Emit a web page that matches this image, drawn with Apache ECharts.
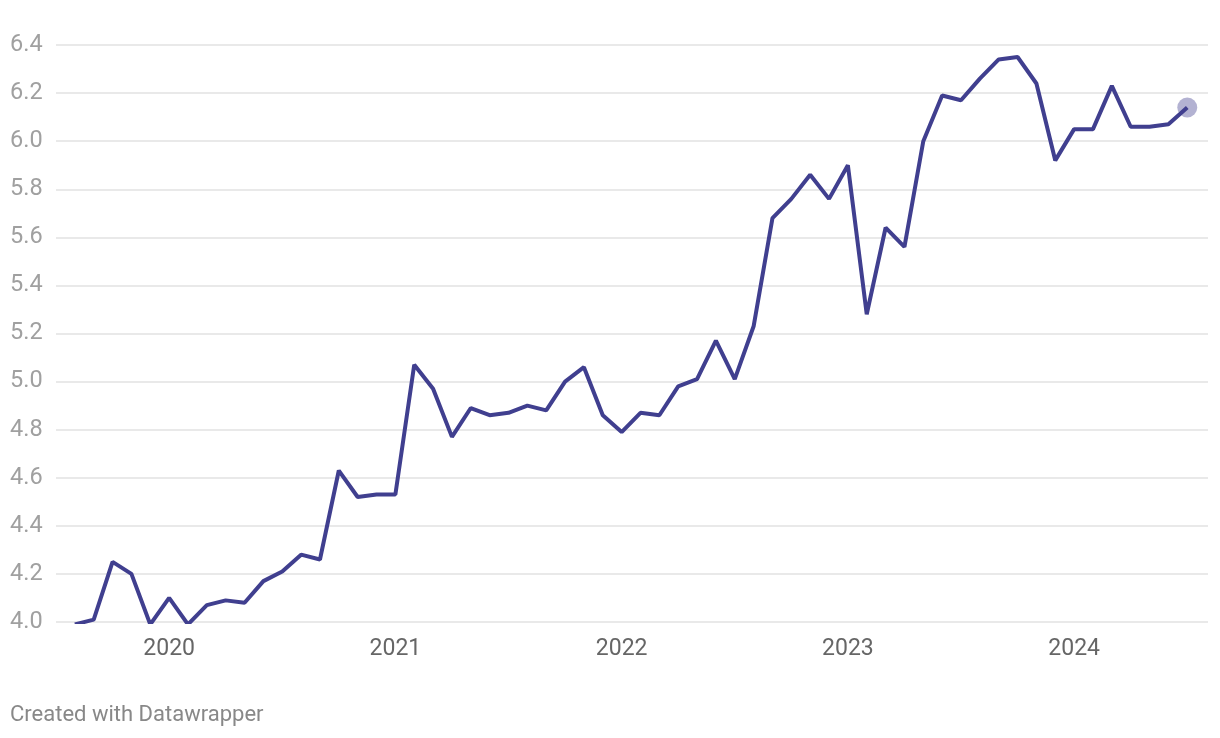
<!DOCTYPE html>
<html>
<head>
<meta charset="utf-8">
<script src="https://cdn.jsdelivr.net/npm/echarts@6/dist/echarts.min.js"></script>
<style>
html,body{margin:0;padding:0;background:#fff;}
#c{width:1220px;height:738px;}
</style>
</head>
<body>
<div id="c"></div>
<script>
const months = [
 "2019-08","2019-09","2019-10","2019-11","2019-12",
 "2020-01","2020-02","2020-03","2020-04","2020-05","2020-06","2020-07","2020-08","2020-09","2020-10","2020-11","2020-12",
 "2021-01","2021-02","2021-03","2021-04","2021-05","2021-06","2021-07","2021-08","2021-09","2021-10","2021-11","2021-12",
 "2022-01","2022-02","2022-03","2022-04","2022-05","2022-06","2022-07","2022-08","2022-09","2022-10","2022-11","2022-12",
 "2023-01","2023-02","2023-03","2023-04","2023-05","2023-06","2023-07","2023-08","2023-09","2023-10","2023-11","2023-12",
 "2024-01","2024-02","2024-03","2024-04","2024-05","2024-06","2024-07"
];
const values = [
 3.99,4.01,4.25,4.20,3.99,
 4.10,3.99,4.07,4.09,4.08,4.17,4.21,4.28,4.26,4.63,4.52,4.53,
 4.53,5.07,4.97,4.77,4.89,4.86,4.87,4.90,4.88,5.00,5.06,4.86,
 4.79,4.87,4.86,4.98,5.01,5.17,5.01,5.23,5.68,5.76,5.86,5.76,
 5.90,5.28,5.64,5.56,6.00,6.19,6.17,6.26,6.34,6.35,6.24,5.92,
 6.05,6.05,6.23,6.06,6.06,6.07,6.14
];
const yearLabels = ["2020","2021","2022","2023","2024"];
const yTicks = [4.0,4.2,4.4,4.6,4.8,5.0,5.2,5.4,5.6,5.8,6.0,6.2,6.4];

const yearIdx = yearLabels.map(y => months.indexOf(y + "-01"));
const lineData = values.map((v, i) => [i, v]);
const lastPoint = [[values.length - 1, values[values.length - 1]]];

const chart = echarts.init(document.getElementById('c'), null, {renderer: 'canvas'});
chart.setOption({
  animation: false,
  backgroundColor: '#ffffff',
  textStyle: {fontFamily: 'Roboto'},
  grid: {left: 56, right: 12, top: 45, bottom: 116, containLabel: false},
  xAxis: {
    type: 'value',
    min: -1,
    max: months.length + 0.1,
    axisLine: {show: false},
    axisTick: {show: false},
    splitLine: {show: false},
    axisLabel: {
      customValues: yearIdx,
      formatter: v => {
        const k = yearIdx.indexOf(Math.round(v));
        return k >= 0 ? yearLabels[k] : '';
      },
      color: '#666666',
      fontSize: 23,
      fontFamily: 'Roboto',
      margin: 16
    }
  },
  yAxis: {
    type: 'value',
    min: yTicks[0],
    max: yTicks[yTicks.length - 1],
    interval: 0.2,
    axisLine: {show: false},
    axisTick: {show: false},
    splitLine: {lineStyle: {color: '#e2e2e2', width: 1.5}},
    axisLabel: {
      formatter: v => v.toFixed(1),
      color: '#a0a0a0',
      fontSize: 23.5,
      fontFamily: 'Roboto',
      align: 'left',
      margin: 46
    }
  },
  series: [
    {
      type: 'line',
      data: lineData,
      showSymbol: false,
      lineStyle: {color: '#403f8f', width: 4},
      itemStyle: {color: '#403f8f'},
      z: 3
    },
    {
      type: 'scatter',
      data: lastPoint,
      symbolSize: 20,
      itemStyle: {color: 'rgba(64,63,143,0.5)'},
      z: 4
    }
  ],
  graphic: [{
    type: 'text',
    left: 10,
    top: 704,
    style: {text: 'Created with Datawrapper', fill: '#888888', fontSize: 22, fontFamily: 'Roboto'}
  }]
});
</script>
</body>
</html>
